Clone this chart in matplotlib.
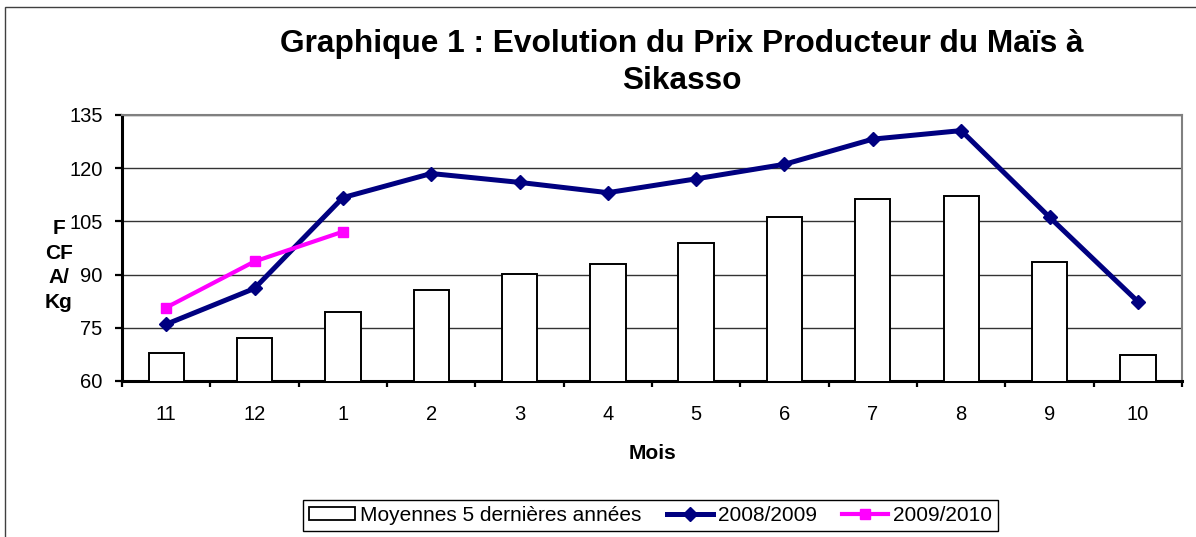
import matplotlib
matplotlib.use("Agg")
import matplotlib.pyplot as plt
from matplotlib.patches import Rectangle, Patch
from matplotlib.lines import Line2D
import numpy as np

plt.rcParams['font.family'] = ['Liberation Sans', 'DejaVu Sans']

months = ["11", "12", "1", "2", "3", "4", "5", "6", "7", "8", "9", "10"]
moyennes = [67.8, 72.1, 79.5, 85.7, 90.3, 93.1, 98.9, 106.2, 111.2, 112.2, 93.5, 67.2]
prix_2008_2009 = [76.0, 86.1, 111.7, 118.5, 116.0, 113.1, 117.0, 121.1, 128.2, 130.6, 106.2, 82.4]
prix_2009_2010 = [80.7, 93.7, 102.1]
yticks = [60, 75, 90, 105, 120, 135]

W, H = 1196, 537
fig = plt.figure(figsize=(W / 100, H / 100), dpi=100)
fig.patch.set_facecolor('white')

# outer chart frame
fig.patches.append(Rectangle((5 / W, -0.1), 1.2, 1 - 7 / H + 0.1, transform=fig.transFigure,
                             fill=False, edgecolor='#404040', linewidth=1))

ax = fig.add_axes([122 / W, 1 - 381 / H, (1182 - 122) / W, (381 - 115) / H])
x = np.arange(len(months))

ax.bar(x, moyennes, width=0.4, bottom=0, color='white', edgecolor='black', linewidth=1.4, zorder=3)
ax.plot(x, prix_2008_2009, color='#000080', linewidth=3.6, marker='D', markersize=7, zorder=4)
ax.plot(x[:len(prix_2009_2010)], prix_2009_2010, color='#FF00FF', linewidth=3.0, marker='s',
        markersize=7.5, zorder=5)

ax.set_xlim(-0.5, len(months) - 0.5)
ax.set_ylim(60, 135)
ax.set_yticks(yticks)
ax.set_yticklabels([str(v) for v in yticks], fontsize=14.5)
ax.set_xticks(x)
ax.set_xticklabels(months, fontsize=14.5)
ax.set_xticks(np.arange(-0.5, len(months), 1.0), minor=True)
ax.tick_params(axis='x', which='major', length=0, pad=17)
ax.tick_params(axis='x', which='minor', length=4.5, width=1.6, direction='out', color='black')
ax.tick_params(axis='y', which='major', length=5, width=1.6, pad=9, color='black')

ax.grid(axis='y', color='#333333', linewidth=1, zorder=0)
ax.set_axisbelow(True)
for s in ['left', 'bottom']:
    ax.spines[s].set_color('black')
    ax.spines[s].set_linewidth(2.2)
for s in ['top', 'right']:
    ax.spines[s].set_color('#808080')
    ax.spines[s].set_linewidth(1.5)

fig.text(682 / W, 1 - 52 / H, "Graphique 1 : Evolution du Prix Producteur du Maïs à",
         ha='center', va='baseline', fontsize=22.8, fontweight='bold')
fig.text(682 / W, 1 - 89 / H, "Sikasso", ha='center', va='baseline', fontsize=22.8, fontweight='bold')

fig.text(59 / W, 1 - 308 / H, "F\nCF\nA/\nKg", ha='center', va='baseline', fontsize=15,
         fontweight='bold', linespacing=1.38)
fig.text(652 / W, 1 - 459 / H, "Mois", ha='center', va='baseline', fontsize=15, fontweight='bold')

handles = [
    Patch(facecolor='white', edgecolor='black', linewidth=1.3),
    Line2D([], [], color='#000080', linewidth=3.6, marker='D', markersize=7),
    Line2D([], [], color='#FF00FF', linewidth=3.0, marker='s', markersize=7.5),
]
labels = ["Moyennes 5 dernières années", "2008/2009", "2009/2010"]
leg = fig.legend(handles, labels, loc='center', bbox_to_anchor=(650.5 / W, 1 - 515.5 / H), ncol=3,
                 fontsize=15, frameon=True, fancybox=False, edgecolor='black', framealpha=1,
                 handlelength=2.2, handleheight=0.55, columnspacing=1.2, handletextpad=0.25,
                 borderpad=0.3, borderaxespad=0)
leg.get_frame().set_linewidth(1)

fig.savefig("out.png", dpi=100)
